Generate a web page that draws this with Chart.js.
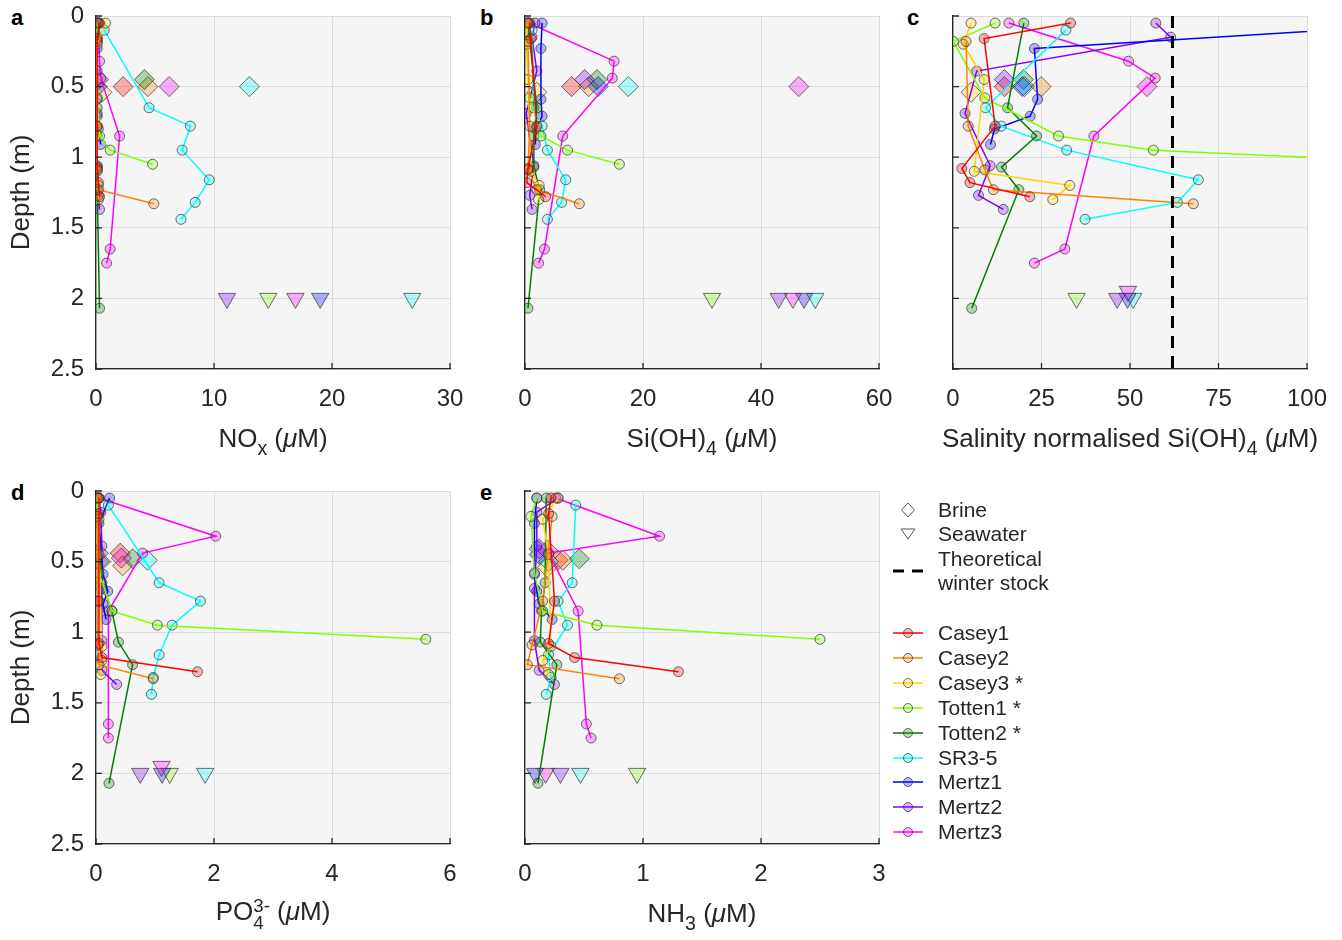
<!DOCTYPE html>
<html>
<head>
<meta charset="utf-8">
<title>Nutrient profiles</title>
<script src="https://cdn.jsdelivr.net/npm/chart.js@4.4.1/dist/chart.umd.min.js"></script>
<style>
  body { margin: 0; background: #fff; font-family: 'Liberation Sans', Arial, sans-serif; color: #262626; }
  #fig { position: relative; width: 1342px; height: 940px; overflow: hidden; }
  .panel { position: absolute; }
  .tag { position: absolute; font-weight: bold; font-size: 22px; line-height: 22px; color: #000; }
  .xtitle { position: absolute; font-size: 26px; line-height: 30px; transform: translate(-50%, -50%); white-space: nowrap; }
  .xtitle sub { font-size: 0.75em; vertical-align: -0.4em; line-height: 0; }
  .stack { display: inline-block; vertical-align: -0.5em; font-size: 0.72em; line-height: 0.95; text-align: left; }
  .stack span { display: block; }
  .leg { position: absolute; font-size: 21px; line-height: 24px; white-space: nowrap; }
  .legsym { position: absolute; }
</style>
</head>
<body>
<div id="fig">
  <div class="tag" style="left:11px;top:7px">a</div>
  <div class="tag" style="left:480px;top:7px">b</div>
  <div class="tag" style="left:907px;top:7px">c</div>
  <div class="tag" style="left:11px;top:482px">d</div>
  <div class="tag" style="left:480px;top:482px">e</div>

  <div class="panel" style="left:0px;top:0px"><canvas id="chartA" width="474" height="429"></canvas></div>
  <div class="panel" style="left:429px;top:0px"><canvas id="chartB" width="474" height="429"></canvas></div>
  <div class="panel" style="left:857px;top:0px"><canvas id="chartC" width="474" height="429"></canvas></div>
  <div class="panel" style="left:0px;top:475px"><canvas id="chartD" width="474" height="429"></canvas></div>
  <div class="panel" style="left:429px;top:475px"><canvas id="chartE" width="474" height="429"></canvas></div>

  <div class="xtitle" style="left:273px;top:438px">NO<sub>x</sub> (<i>μ</i>M)</div>
  <div class="xtitle" style="left:702px;top:438px">Si(OH)<sub>4</sub> (<i>μ</i>M)</div>
  <div class="xtitle" style="left:1130px;top:438px">Salinity normalised Si(OH)<sub>4</sub> (<i>μ</i>M)</div>
  <div class="xtitle" style="left:273px;top:914px">PO<span class="stack"><span>3-</span><span>4</span></span> (<i>μ</i>M)</div>
  <div class="xtitle" style="left:702px;top:913px">NH<sub>3</sub> (<i>μ</i>M)</div>

  <div id="legend"></div>
</div>

<script>
// Nucleos y colores
const coreNames = ['Casey1', 'Casey2', 'Casey3 *', 'Totten1 *', 'Totten2 *', 'SR3-5', 'Mertz1', 'Mertz2', 'Mertz3'];
const coreColors = ['#ff0000', '#ff8000', '#ffd700', '#80ff00', '#008000', '#00ffff', '#0000ff', '#8000ff', '#ff00ff'];

// Profundidades de muestreo (m), mismo orden que coreNames
const coreDepths = [
    [0.05, 0.16, 0.78, 1.08, 1.18, 1.28],
    [0.18, 0.78, 1.09, 1.23, 1.33],
    [0.05, 0.2, 0.45, 1.1, 1.2, 1.3],
    [0.05, 0.18, 0.58, 0.85, 0.95, 1.05],
    [0.05, 0.65, 0.85, 1.07, 1.23, 2.07],
    [0.1, 0.65, 0.78, 0.95, 1.16, 1.32, 1.44],
    [0.05, 0.23, 0.59, 0.71, 0.8, 0.91],
    [0.05, 0.15, 0.39, 0.69, 1.06, 1.27, 1.37],
    [0.05, 0.32, 0.44, 0.85, 1.65, 1.75]
];

const noxValues = [
    [0.3, 0.1, 0.1, 0.1, 0.2, 0.3],
    [0.1, 0.1, 0.1, 0.2, 4.9],
    [0.8, 0.1, 0.1, 0.1, 0.2, 0.2],
    [0.1, 0.1, 0.1, 0.3, 1.2, 4.8],
    [0.1, 0.1, 0.1, 0.1, 0.1, 0.3],
    [0.7, 4.5, 8.0, 7.3, 9.6, 8.4, 7.2],
    [0.2, 0.1, 0.1, 0.1, 0.2, 0.4],
    [0.2, 0.1, 0.1, 0.1, 0.1, 0.2, 0.3],
    [0.2, 0.3, 0.4, 2.0, 1.2, 0.9]
];

const siValues = [
    [0.8, 1.0, 2.0, 0.5, 0.3, 3.5],
    [0.5, 0.8, 0.5, 2.0, 9.2],
    [0.3, 0.3, 0.5, 1.0, 2.4, 2.3],
    [0.5, 0.2, 0.8, 2.7, 7.2, 16.0],
    [0.5, 2.0, 1.5, 1.5, 2.5, 0.5],
    [1.2, 1.5, 2.9, 3.8, 6.9, 6.2, 3.8],
    [2.9, 2.7, 2.7, 2.9, 1.8, 1.75],
    [1.7, 1.2, 2.0, 0.2, 1.5, 0.8, 1.2],
    [0.6, 15.1, 14.8, 6.4, 3.3, 2.3]
];

const siNormValues = [
    [33.2, 8.8, 11.9, 2.5, 4.8, 21.7],
    [3.7, 4.3, 9.0, 11.4, 67.9],
    [5.1, 2.9, 8.8, 6.0, 33.0, 28.2],
    [11.9, 0.1, 9.0, 29.8, 56.6, 143],
    [20.0, 15.4, 23.6, 13.7, 18.6, 5.3],
    [31.9, 9.2, 13.6, 32.1, 69.3, 63.4, 37.3],
    [139, 23.0, 23.9, 21.8, 11.7, 10.6],
    [57.3, 61.5, 6.7, 3.4, 10.5, 7.2, 14.2],
    [15.8, 49.6, 57.1, 39.8, 31.6, 23.0]
];

const po4Values = [
    [0.05, 0.05, 0.05, 0.05, 0.1, 1.72],
    [0.02, 0.03, 0.03, 0.05, 0.97],
    [0.05, 0.05, 0.05, 0.1, 0.1, 0.08],
    [0.02, 0.03, 0.05, 0.27, 1.04, 5.59],
    [0.02, 0.1, 0.27, 0.38, 0.62, 0.22],
    [0.21, 1.07, 1.77, 1.29, 1.07, 0.97, 0.94],
    [0.23, 0.05, 0.12, 0.2, 0.12, 0.17],
    [0.05, 0.08, 0.1, 0.1, 0.1, 0.1, 0.35],
    [0.05, 2.03, 0.79, 0.21, 0.21, 0.21]
];

const nh3Values = [
    [0.22, 0.2, 0.25, 0.2, 0.42, 1.3],
    [0.23, 0.15, 0.06, 0.02, 0.8],
    [0.28, 0.15, 0.2, 0.22, 0.15, 0.2],
    [0.1, 0.05, 0.08, 0.15, 0.61, 2.5],
    [0.18, 0.17, 0.14, 0.13, 0.27, 0.11],
    [0.43, 0.4, 0.28, 0.36, 0.2, 0.22, 0.18],
    [0.1, 0.08, 0.08, 0.1, 0.12, 0.23],
    [0.28, 0.1, 0.1, 0.08, 0.08, 0.12, 0.25],
    [0.26, 1.14, 0.2, 0.45, 0.52, 0.56]
];

// Salmuera (rombos): indice de nucleo y profundidad
const brineCores = [0, 1, 2, 4, 5, 6, 7, 8];
const brineDepths = [0.5, 0.5, 0.54, 0.45, 0.5, 0.5, 0.45, 0.5];
const brineDepthsPO4 = [0.44, 0.53, 0.5, 0.48, 0.49, 0.5, 0.44, 0.475];
const brineDepthsNH3 = [0.49, 0.49, 0.54, 0.48, 0.5, 0.45, 0.41, 0.42];
const brineNOx = [2.3, 4.4, 0.5, 4.1, 13.0, 0.1, 0.2, 6.2];
const brineSi = [7.9, 10.8, 2.0, 12.2, 17.5, 12.4, 10.1, 46.4];
const brineSiNorm = [14.5, 24.9, 5.1, 19.9, 20.2, 19.6, 14.5, 54.8];
const brinePO4 = [0.41, 0.45, 0.08, 0.62, 0.87, 0.05, 0.04, 0.43];
const brineNH3 = [0.28, 0.32, 0.19, 0.46, 0.2, 0.12, 0.12, 0.19];

// Agua de mar (triangulos)
const seawaterCores = [3, 5, 6, 7, 8];
const seawaterDepths = [2, 2, 2, 2, 2];
const seawaterDepthsAlt = [2, 2, 2, 2, 1.95];
const seaNOx = [14.6, 26.8, 19.0, 11.1, 16.9];
const seaSi = [31.7, 49.2, 47.3, 43.0, 45.4];
const seaSiNorm = [34.9, 50.9, 49.3, 46.4, 49.4];
const seaPO4 = [1.25, 1.85, 1.12, 0.75, 1.11];
const seaNH3 = [0.95, 0.47, 0.085, 0.3, 0.175];

const winterStock = 62;

document.addEventListener('DOMContentLoaded', function() {
    const FONT = "'Liberation Sans', Arial, sans-serif";
    const TEXT = '#262626';
    const EDGE = 'rgba(50, 50, 50, 0.7)';

    Chart.defaults.font.family = FONT;
    Chart.defaults.color = TEXT;

    function fade(hex, a) {
        const n = parseInt(hex.slice(1), 16);
        return `rgba(${(n >> 16) & 255}, ${(n >> 8) & 255}, ${n & 255}, ${a})`;
    }

    // Fondo gris del area de trazado
    const plotBackground = {
        id: 'plotBackground',
        beforeDraw(chart) {
            const { ctx, chartArea: a } = chart;
            ctx.save();
            ctx.fillStyle = '#f5f5f5';
            ctx.fillRect(a.left, a.top, a.right - a.left, a.bottom - a.top);
            ctx.restore();
        }
    };

    // Marcas de los ejes hacia dentro (estilo MATLAB)
    const inwardTicks = {
        id: 'inwardTicks',
        afterDraw(chart) {
            const { ctx, chartArea: a, scales } = chart;
            ctx.save();
            ctx.strokeStyle = TEXT;
            ctx.lineWidth = 1.3;
            ctx.beginPath();
            scales.x.ticks.forEach(t => {
                const px = scales.x.getPixelForValue(t.value);
                ctx.moveTo(px, a.bottom);
                ctx.lineTo(px, a.bottom - 6);
            });
            scales.y.ticks.forEach(t => {
                const py = scales.y.getPixelForValue(t.value);
                ctx.moveTo(a.left, py);
                ctx.lineTo(a.left + 6, py);
            });
            ctx.stroke();
            ctx.restore();
        }
    };

    // Tamano fijo de los ejes, sin relleno automatico por etiquetas
    function fixAxis(s, size) {
        if (s.isHorizontal()) s.height = size; else s.width = size;
        s.paddingTop = 0;
        s.paddingBottom = 0;
        s.paddingLeft = 0;
        s.paddingRight = 0;
    }

    function buildPanel(id, values, brine, brineD, sea, seaDepths, xMax, xStep, showDepth, stock) {
        const datasets = [];

        if (stock !== undefined) {
            datasets.push({
                data: [{ x: stock, y: 0 }, { x: stock, y: 2.5 }],
                showLine: true,
                borderColor: '#000',
                borderWidth: 3,
                borderDash: [12, 8],
                pointRadius: 0
            });
        }

        coreNames.forEach((name, i) => {
            datasets.push({
                label: name,
                data: coreDepths[i].map((d, j) => ({ x: values[i][j], y: d })),
                showLine: true,
                borderColor: coreColors[i],
                borderWidth: 1.5,
                backgroundColor: fade(coreColors[i], 0.28),
                pointBorderColor: EDGE,
                pointBorderWidth: 1,
                pointRadius: 5,
                pointHoverRadius: 5
            });
        });

        datasets.push({
            label: 'Brine',
            data: brineD.map((d, k) => ({ x: brine[k], y: d })),
            pointStyle: 'rectRot',
            pointRadius: 10,
            backgroundColor: brineCores.map(c => fade(coreColors[c], 0.3)),
            pointBorderColor: EDGE,
            pointBorderWidth: 1
        });

        datasets.push({
            label: 'Seawater',
            data: seaDepths.map((d, k) => ({ x: sea[k], y: d })),
            pointStyle: 'triangle',
            rotation: 180,
            pointRadius: 10,
            backgroundColor: seawaterCores.map(c => fade(coreColors[c], 0.3)),
            pointBorderColor: EDGE,
            pointBorderWidth: 1
        });

        const gridStyle = { color: '#dcdcdc', lineWidth: 1, drawTicks: false };
        const borderStyle = { color: TEXT, width: 1.3 };

        return new Chart(document.getElementById(id), {
            type: 'scatter',
            data: { datasets: datasets },
            options: {
                responsive: false,
                animation: false,
                devicePixelRatio: 1,
                layout: { autoPadding: false, padding: { top: 16, right: 24, left: 0, bottom: 0 } },
                plugins: {
                    legend: { display: false },
                    tooltip: { enabled: false }
                },
                scales: {
                    x: {
                        type: 'linear',
                        position: 'bottom',
                        min: 0,
                        max: xMax,
                        ticks: { stepSize: xStep, padding: 16, font: { size: 24 }, color: TEXT },
                        grid: gridStyle,
                        border: borderStyle,
                        afterFit: s => fixAxis(s, 60)
                    },
                    y: {
                        type: 'linear',
                        reverse: true,
                        min: 0,
                        max: 2.5,
                        ticks: {
                            stepSize: 0.5,
                            display: showDepth,
                            padding: 12,
                            font: { size: 24 },
                            color: TEXT,
                            callback: v => String(Math.round(v * 10) / 10)
                        },
                        title: {
                            display: showDepth,
                            text: 'Depth (m)',
                            font: { size: 26 },
                            color: TEXT,
                            padding: { top: 6, bottom: 0 }
                        },
                        grid: gridStyle,
                        border: borderStyle,
                        afterFit: s => fixAxis(s, 96)
                    }
                }
            },
            plugins: [plotBackground, inwardTicks]
        });
    }

    buildPanel('chartA', noxValues, brineNOx, brineDepths, seaNOx, seawaterDepths, 30, 10, true);
    buildPanel('chartB', siValues, brineSi, brineDepths, seaSi, seawaterDepths, 60, 20, false);
    buildPanel('chartC', siNormValues, brineSiNorm, brineDepths, seaSiNorm, seawaterDepthsAlt, 100, 25, false, winterStock);
    buildPanel('chartD', po4Values, brinePO4, brineDepthsPO4, seaPO4, seawaterDepthsAlt, 6, 2, true);
    buildPanel('chartE', nh3Values, brineNH3, brineDepthsNH3, seaNH3, seawaterDepths, 3, 1, false);

    // Leyenda en HTML
    const legendEl = document.getElementById('legend');
    const symX = 891;
    const textX = 938;

    function addRow(yCenter, svgInner, text) {
        const sym = document.createElement('div');
        sym.className = 'legsym';
        sym.style.left = symX + 'px';
        sym.style.top = (yCenter - 10) + 'px';
        sym.innerHTML = `<svg width="34" height="20" viewBox="0 0 34 20">${svgInner}</svg>`;
        legendEl.appendChild(sym);
        if (text) {
            const t = document.createElement('div');
            t.className = 'leg';
            t.style.left = textX + 'px';
            t.style.top = (yCenter - 12) + 'px';
            t.innerHTML = text;
            legendEl.appendChild(t);
        }
    }

    addRow(510, '<polygon points="17,3 23.5,10 17,17 10.5,10" fill="#fff" stroke="#555" stroke-width="1"/>', 'Brine');
    addRow(534, '<polygon points="10,5 24,5 17,15" fill="#fff" stroke="#555" stroke-width="1"/>', 'Seawater');
    addRow(571, '<line x1="2" y1="10" x2="32" y2="10" stroke="#000" stroke-width="3" stroke-dasharray="11,8"/>', '');
    const t1 = document.createElement('div');
    t1.className = 'leg';
    t1.style.left = textX + 'px';
    t1.style.top = '547px';
    t1.innerHTML = 'Theoretical<br>winter stock';
    legendEl.appendChild(t1);

    coreNames.forEach((name, i) => {
        const y = 633 + i * 24.9;
        addRow(y,
            `<line x1="2" y1="10" x2="32" y2="10" stroke="${coreColors[i]}" stroke-width="1.5"/>` +
            `<circle cx="17" cy="10" r="4.5" fill="${fade(coreColors[i], 0.28)}" stroke="${EDGE}" stroke-width="1"/>`,
            name);
    });
});
</script>
</body>
</html>
